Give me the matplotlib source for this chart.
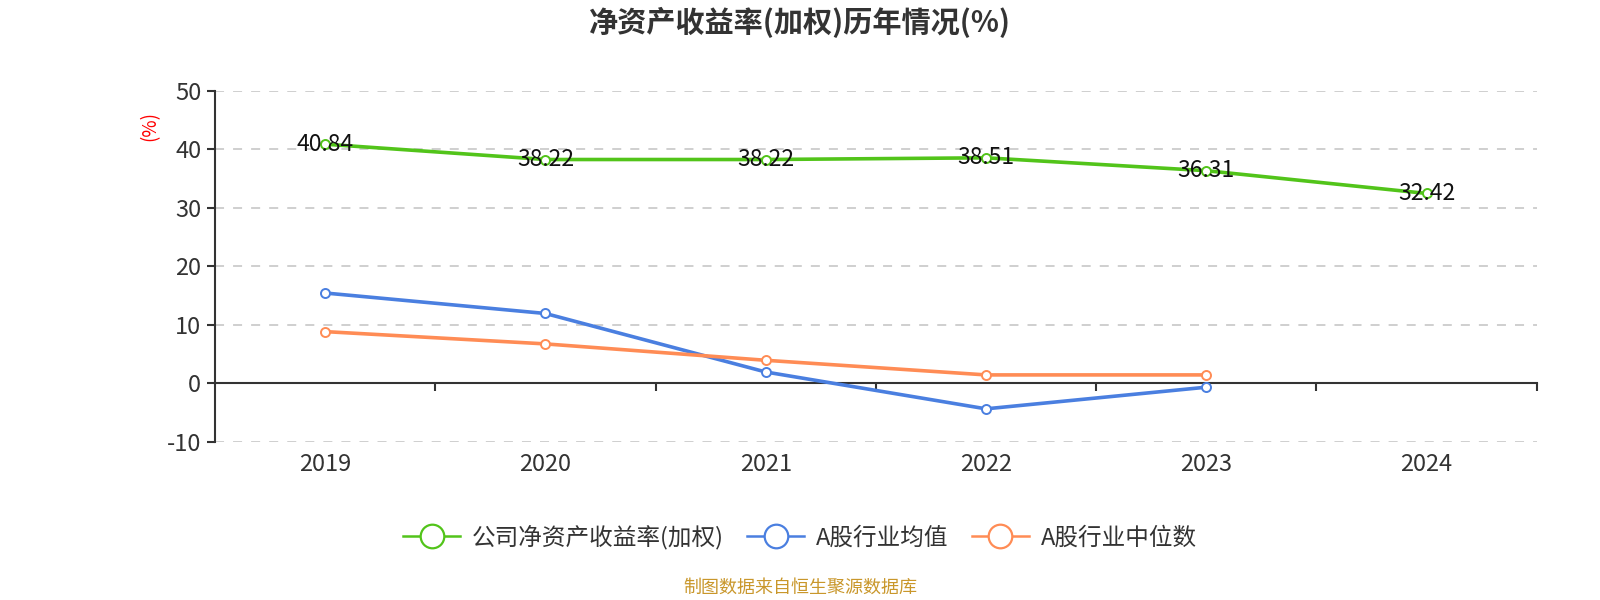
import numpy as np
import matplotlib
matplotlib.use("Agg")
import matplotlib.pyplot as plt
from matplotlib.lines import Line2D
from matplotlib.ticker import FixedLocator

plt.rcParams['font.family'] = ['Noto Sans CJK SC', 'DejaVu Sans']
plt.rcParams['axes.unicode_minus'] = False

years = ['2019', '2020', '2021', '2022', '2023', '2024']
company_roe = [40.84, 38.22, 38.22, 38.51, 36.31, 32.42]
industry_mean = [15.4, 11.9, 1.9, -4.4, -0.7]
industry_median = [8.8, 6.7, 3.9, 1.4, 1.4]

names = ['公司净资产收益率(加权)', 'A股行业均值', 'A股行业中位数']
colors = ['#52c41a', '#4a7fe0', '#ff8c55']

fig = plt.figure(figsize=(16, 6), dpi=100, facecolor='w')
ax = fig.add_axes([0.1344, 0.264, 0.826, 0.585])

x = np.arange(len(years))
series = [company_roe, industry_mean, industry_median]
for vals, c in zip(series, colors):
    xs = x[:len(vals)]
    ax.plot(xs, vals, color=c, lw=2.6, marker='o', ms=6.5,
            mfc='white', mec=c, mew=1.4, zorder=3)

# value labels on the company line
for xi, v in zip(x, company_roe):
    ax.text(xi, v, f'{v:.2f}', ha='center', va='center', fontsize=16.5,
            color='#111111', zorder=4)

ax.set_xlim(-0.5, len(years) - 0.5)
ax.set_ylim(-10, 50)
ax.set_yticks([-10, 0, 10, 20, 30, 40, 50])
for t in [-10, 10, 20, 30, 40, 50]:
    ax.axhline(t, color='#cccccc', lw=1.3, ls=(0, (5, 5)), zorder=1)

for s in ['top', 'right']:
    ax.spines[s].set_visible(False)
ax.spines['left'].set_color('#333333')
ax.spines['left'].set_linewidth(1.5)
ax.spines['bottom'].set_position(('data', 0))
ax.spines['bottom'].set_color('#333333')
ax.spines['bottom'].set_linewidth(1.5)

ax.set_xticks(x)
ax.set_xticklabels(years)
ax.xaxis.set_minor_locator(FixedLocator(np.arange(0.5, len(years), 1.0)))
ax.tick_params(axis='x', which='major', length=0, pad=50, labelsize=17,
               labelcolor='#333333')
ax.tick_params(axis='x', which='minor', length=6, width=1.5, color='#333333',
               direction='out')
ax.tick_params(axis='y', length=6, width=1.5, color='#333333', labelsize=17,
               labelcolor='#333333', pad=4)

ax.set_ylabel('(%)', color='red', fontsize=13.5)
ax.yaxis.set_label_coords(-0.041, 0.90)

fig.text(0.5, 0.962, '净资产收益率(加权)历年情况(%)', ha='center', va='center',
         fontsize=21, fontweight='bold', color='#333333')

handles = [Line2D([0], [0], color=c, lw=1.8, marker='o', ms=17, mfc='white',
                  mec=c, mew=1.6) for c in colors]
fig.legend(handles, names, loc='center', bbox_to_anchor=(0.5, 0.105), ncol=3,
           frameon=False, fontsize=17, handlelength=2.4, columnspacing=1.0,
           handletextpad=0.5, labelcolor='#333333')

fig.text(0.5, 0.02, '制图数据来自恒生聚源数据库', ha='center', va='center',
         fontsize=13, color='#c9972b')

fig.savefig('out.png', dpi=100)
